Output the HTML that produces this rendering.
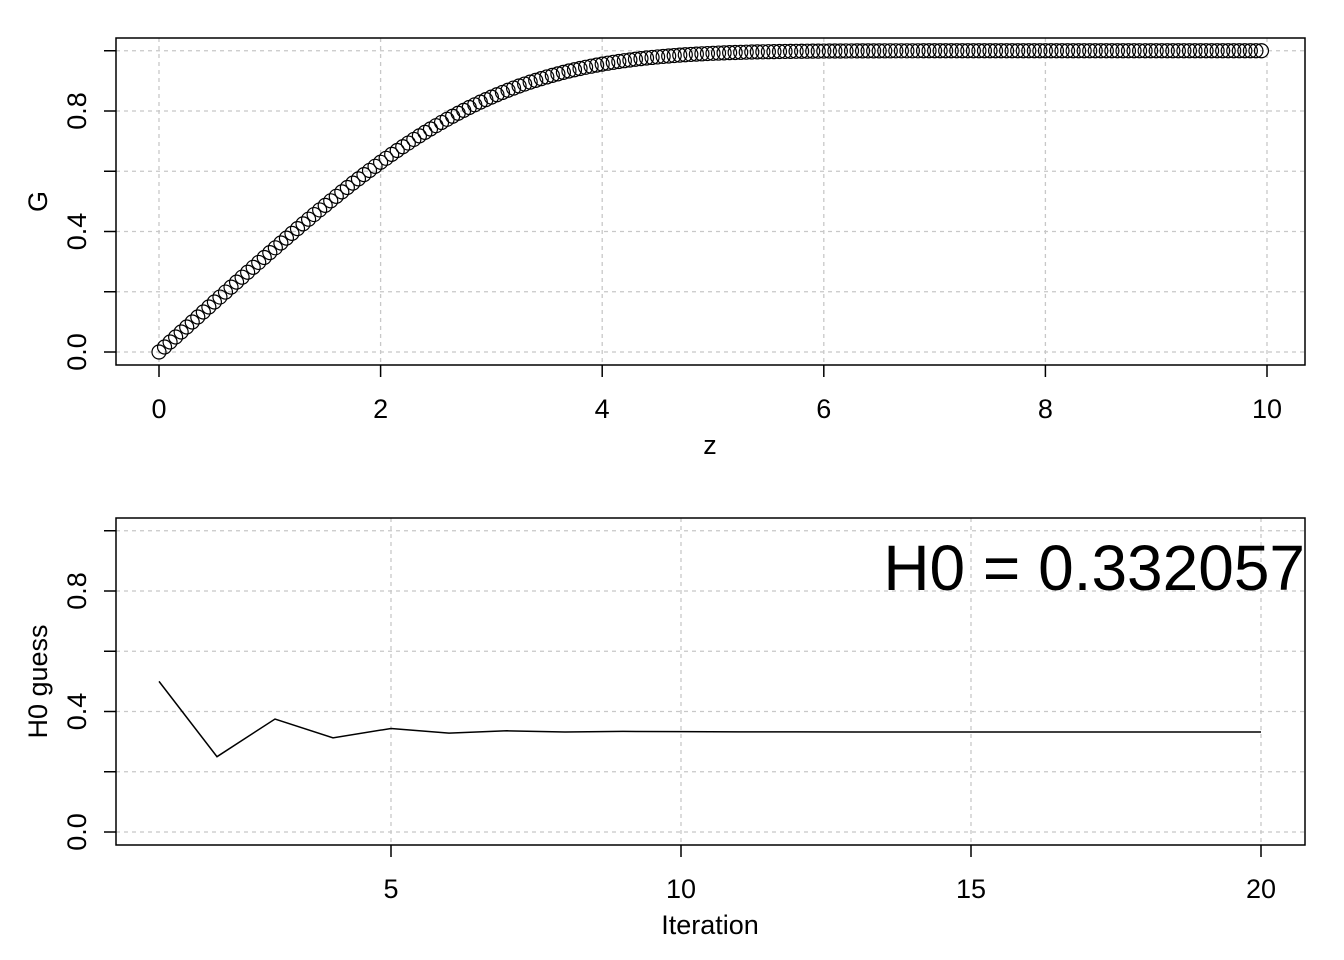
<!DOCTYPE html>
<html><head><meta charset="utf-8"><style>
html,body{margin:0;padding:0;background:#fff;}
svg{display:block;font-family:"Liberation Sans",Arial,sans-serif;}
</style></head><body>
<svg id="s" width="1344" height="960" viewBox="0 0 1344 960" xmlns="http://www.w3.org/2000/svg">
<rect width="1344" height="960" fill="#fff"/>
<g id="g"></g>
<text x="1305" y="590" font-size="64" text-anchor="end">H0 = 0.332057</text>
</svg>
<script>
var out=[];
function L(x1,y1,x2,y2,a){out.push('<line x1="'+x1+'" y1="'+y1+'" x2="'+x2+'" y2="'+y2+'" '+(a||'stroke="#000" stroke-width="1.5"')+'/>');}
function T(x,y,t,rot,sz){sz=sz||27;out.push('<text x="'+x+'" y="'+y+'" font-size="'+sz+'" text-anchor="middle"'+(rot?' transform="rotate(-90 '+x+' '+y+')"':'')+'>'+t+'</text>');}
var grid='stroke="#c8c8c8" stroke-width="1.3" stroke-dasharray="4,4"';
function panel(top,bot,y0,xs,xl,xfn,ylab,xlab){
  for(var i=0;i<=5;i++){var y=y0-i*60.25;L(116,y,1305,y,grid);L(104,y,116,y);}
  [0,0.4,0.8].forEach(function(v){var y=y0-v/0.2*60.25;T(86,y,v.toFixed(1),true);});
  xs.forEach(function(v){var x=xfn(v);L(x,top,x,bot,grid);L(x,bot,x,bot+12);T(x,bot+53,String(v));});
  out.push('<rect x="116" y="'+top+'" width="1189" height="'+(bot-top)+'" fill="none" stroke="#000" stroke-width="1.5"/>');
  T(47,(top+bot)/2,ylab,true,27);T(710,bot+89,xlab,false,27);
}
var fx1=function(v){return 159+v*110.8;};
panel(38,365,352,[0,2,4,6,8,10],null,fx1,'G','z');
var fx2=function(v){return 159+(v-1)*58;};
panel(518,845,832,[5,10,15,20],null,fx2,'H0 guess','Iteration');
function d(s){return [s[1],s[2],-0.5*s[0]*s[2]];}
var s=[0,0,0.332057],h=0.001,pts=[];
for(var k=0;k<10000;k++){
  if(k%50==0){pts.push([k*h,s[1]]);}
  var k1=d(s),a=s.map(function(v,i){return v+h/2*k1[i]}),k2=d(a),b=s.map(function(v,i){return v+h/2*k2[i]}),k3=d(b),c=s.map(function(v,i){return v+h*k3[i]}),k4=d(c);
  s=s.map(function(v,i){return v+h/6*(k1[i]+2*k2[i]+2*k3[i]+k4[i]);});
}
pts.forEach(function(p){out.push('<circle cx="'+fx1(p[0]).toFixed(2)+'" cy="'+(352-p[1]/0.2*60.25).toFixed(2)+'" r="7" fill="none" stroke="#000" stroke-width="1.2"/>');});
var lo=0,hi=1,ys=[];
for(var i=1;i<=20;i++){var m=(lo+hi)/2;ys.push(m);if(m>0.332057)hi=m;else lo=m;}
var pp=ys.map(function(v,i){return fx2(i+1).toFixed(2)+','+(832-v/0.2*60.25).toFixed(2);}).join(' ');
out.push('<polyline points="'+pp+'" fill="none" stroke="#000" stroke-width="1.5"/>');
document.getElementById('g').innerHTML=out.join('');
</script>
</body></html>
